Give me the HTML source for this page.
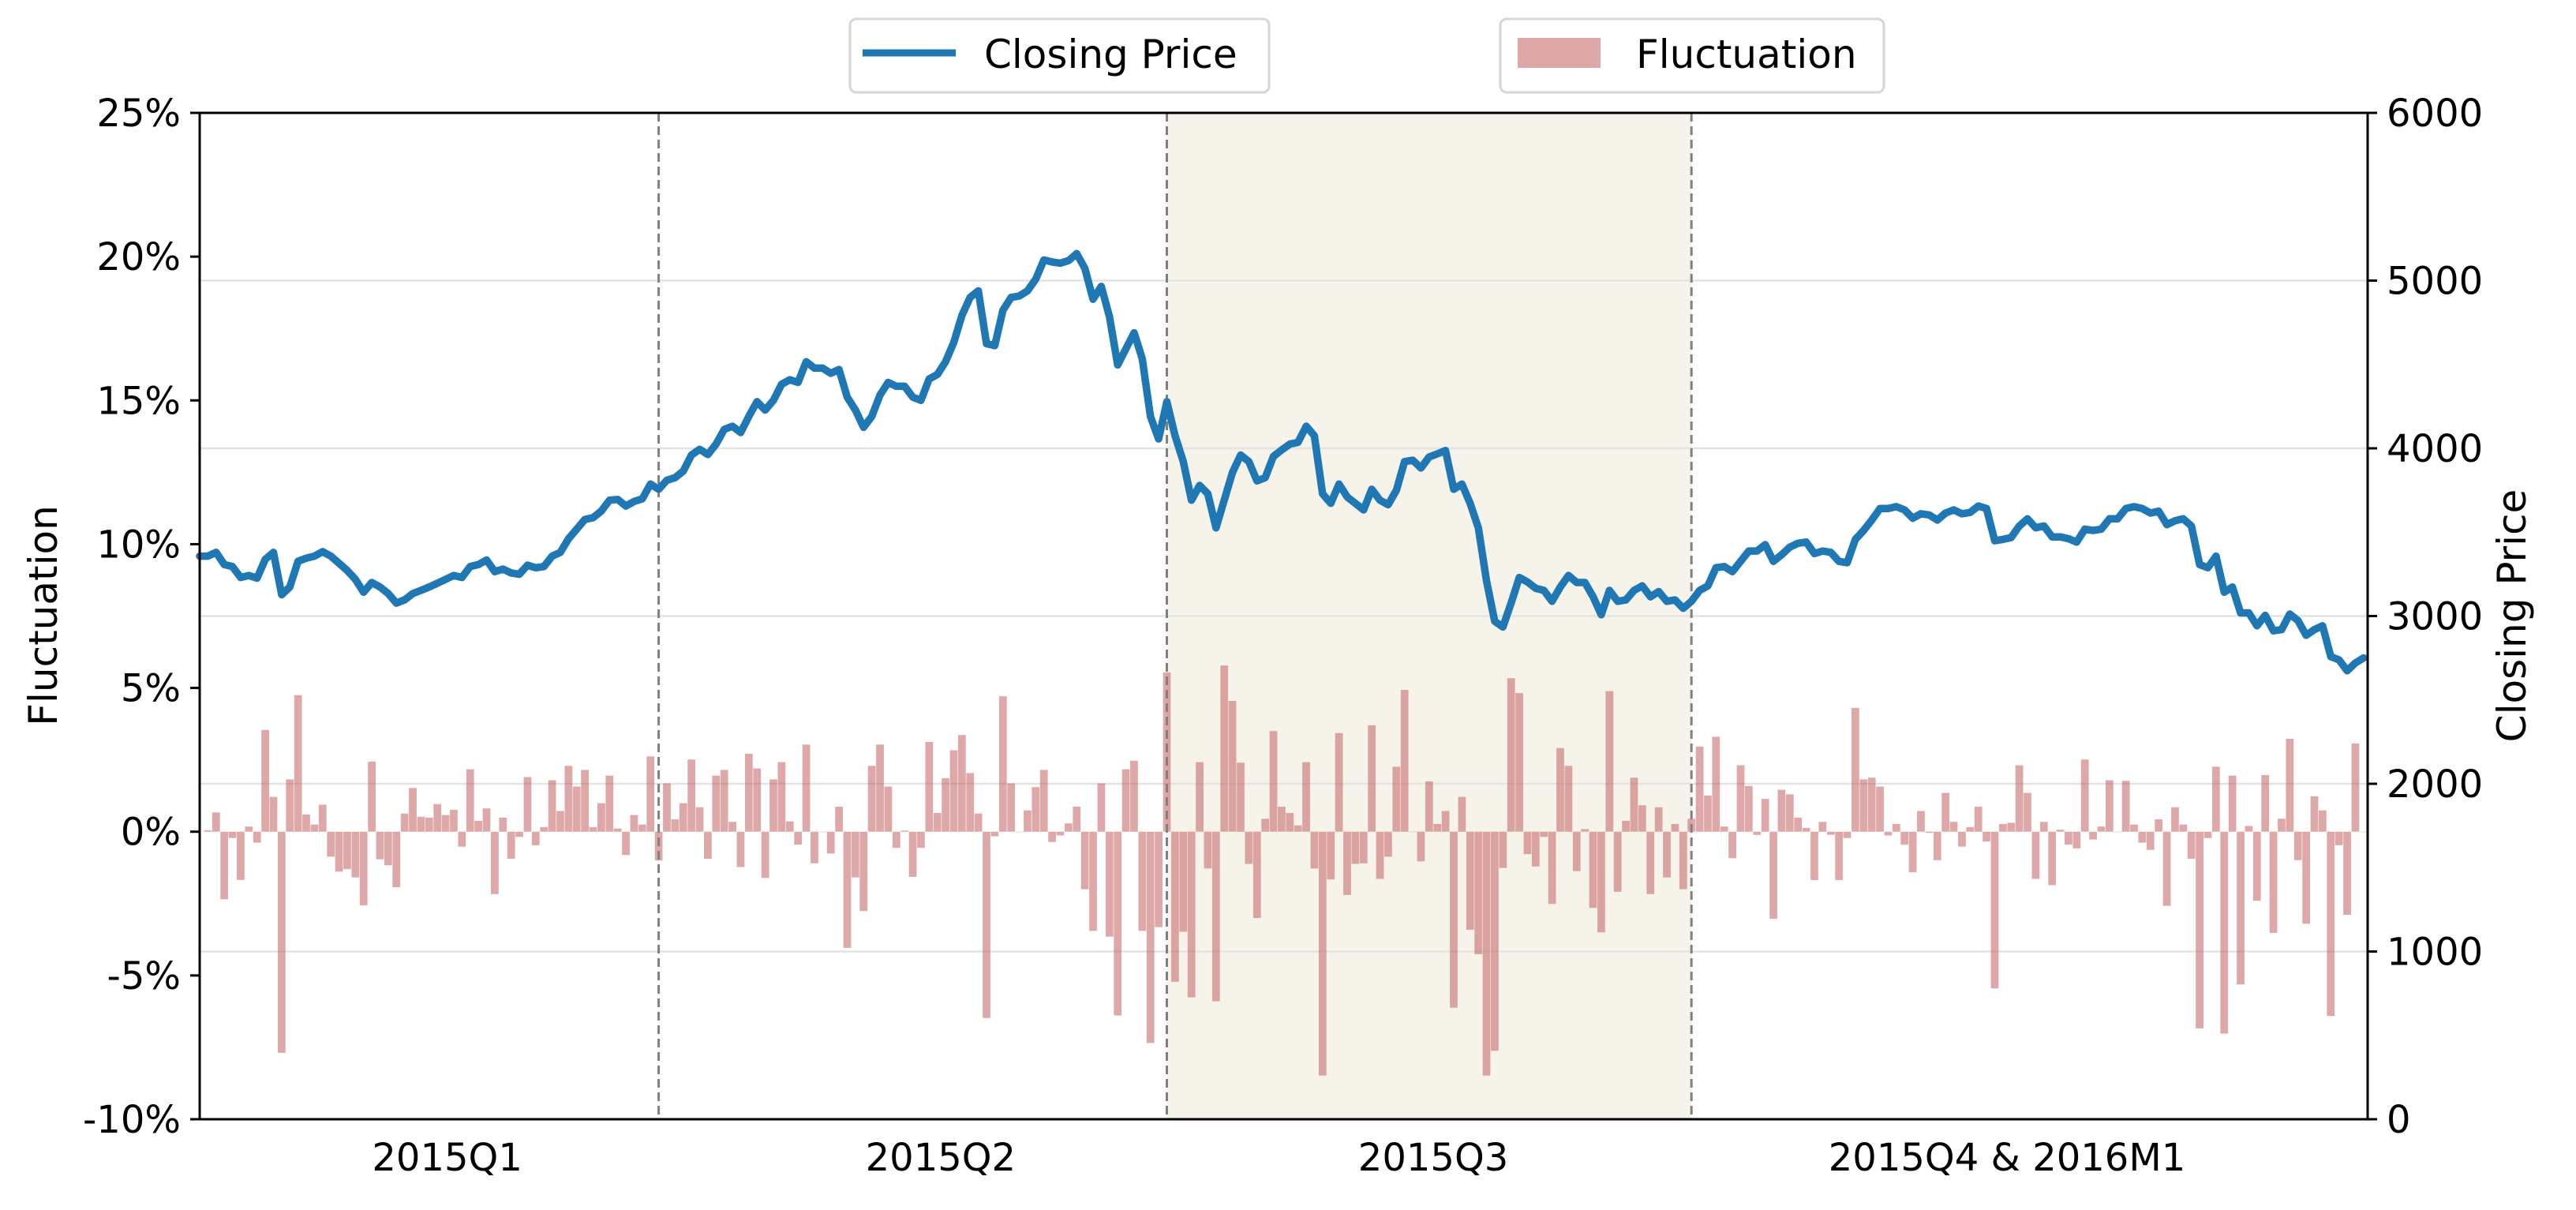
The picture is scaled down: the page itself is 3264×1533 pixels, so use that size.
<!DOCTYPE html>
<html><head><meta charset="utf-8"><style>
html,body{margin:0;padding:0;background:#fff;}
svg{display:block;font-family:"DejaVu Sans","Liberation Sans",sans-serif;}
</style></head><body>
<svg id="chart" width="3264" height="1533" viewBox="0 0 3264 1533" xmlns="http://www.w3.org/2000/svg">
<rect x="0" y="0" width="3264" height="1533" fill="#fff"/>
<g id="bg"></g>
<g id="grid"></g>
<g id="bars"></g>
<g id="vlines"></g>
<path id="price-line" fill="none" stroke="#1f77b4" stroke-width="9.5" stroke-linejoin="round" stroke-linecap="round"/>
<rect x="253" y="143" width="2747" height="1275" fill="none" stroke="#000" stroke-width="3"/>
<g id="axes"></g>
<text transform="translate(72,780) rotate(-90)" text-anchor="middle" font-size="50">Fluctuation</text>
<text transform="translate(3200,780) rotate(-90)" text-anchor="middle" font-size="50">Closing Price</text>
<g>
<rect x="1077" y="24" width="531" height="93" rx="8" fill="#fff" stroke="#d6d6d6" stroke-width="3"/>
<line x1="1093" y1="67" x2="1211" y2="67" stroke="#1f77b4" stroke-width="9"/>
<text x="1247" y="86" font-size="50">Closing Price</text>
</g>
<g>
<rect x="1901" y="24" width="486" height="93" rx="8" fill="#fff" stroke="#d6d6d6" stroke-width="3"/>
<rect x="1923" y="48" width="105" height="38" fill="#dea8a8"/>
<text x="2073" y="86" font-size="50">Fluctuation</text>
</g>
</svg>
<script>
const quarterLabels = ["2015Q1","2015Q2","2015Q3","2015Q4 & 2016M1"];
const quarterLabelPos = [30.2, 90.4, 150.5, 220.5];
const quarterBreaks = [56, 118, 182];
const leftTicks = [-10,-5,0,5,10,15,20,25];
const rightTicks = [0,1000,2000,3000,4000,5000,6000];
const closingPrice = [3357,3357,3380,3307,3295,3230,3242,3226,3338,3380,3127,3173,3326,3345,3357,3384,3357,3315,3272,3219,3142,3200,3173,3134,3077,3096,3134,3153,3173,3196,3219,3242,3230,3295,3307,3334,3265,3280,3257,3249,3303,3288,3295,3357,3380,3461,3518,3576,3587,3626,3691,3695,3656,3683,3699,3787,3756,
3810,3825,3864,3960,3994,3963,4025,4113,4132,4094,4190,4278,4228,4286,4382,4409,4393,4516,4478,4478,4447,4470,4305,4228,4125,4190,4317,4393,4370,4370,4305,4286,4413,4440,4516,4631,4793,4900,4939,4624,4612,4823,4900,4908,4939,5008,5123,5111,5104,5119,5161,5073,4889,4965,4785,4497,4593,4689,4535,4190,4056,4278,
4075,3921,3691,3779,3729,3526,3691,3856,3960,3921,3806,3825,3952,3990,4025,4036,4132,4075,3729,3672,3787,3710,3672,3633,3756,3691,3664,3749,3921,3929,3883,3948,3967,3987,3756,3787,3672,3526,3211,2969,2935,3077,3230,3203,3165,3153,3088,3173,3242,3200,3200,3115,3008,3153,3088,3096,3153,3180,3115,3146,3088,3096,3046,3088,
3153,3180,3288,3295,3265,3326,3388,3388,3426,3326,3365,3411,3434,3441,3372,3388,3380,3326,3318,3457,3510,3572,3641,3641,3652,3633,3583,3610,3603,3572,3614,3633,3610,3618,3656,3641,3449,3457,3468,3537,3580,3526,3537,3472,3472,3461,3441,3518,3510,3518,3580,3580,3641,3652,3641,3614,3625,3545,3568,3580,3537,3307,3288,3357,3142,3173,3019,3019,2942,3004,2912,2919,3012,2973,2885,2919,2942,2758,2739,2674,2720,2750];
const fluctuation = [0,0.05,0.67,-2.35,-0.22,-1.68,0.18,-0.38,3.54,1.21,-7.69,1.82,4.75,0.6,0.25,0.94,-0.87,-1.39,-1.3,-1.59,-2.56,2.44,-0.96,-1.17,-1.93,0.63,1.52,0.52,0.49,0.96,0.58,0.76,-0.52,2.17,0.38,0.81,-2.17,0.49,-0.94,-0.18,1.9,-0.47,0.16,1.79,0.72,2.29,1.57,2.15,0.16,0.99,1.95,0.11,-0.81,0.58,0.25,2.62,-1.0,
1.68,0.43,0.99,2.51,0.85,-0.94,1.95,2.15,0.34,-1.23,2.71,2.2,-1.61,1.82,2.42,0.36,-0.45,3.03,-1.1,0,-0.76,0.87,-4.04,-1.59,-2.76,2.29,3.03,1.57,-0.56,0.04,-1.57,-0.56,3.12,0.65,1.86,2.83,3.36,2.04,0.63,-6.48,-0.16,4.71,1.68,0,0.74,1.55,2.15,-0.36,-0.13,0.29,0.87,-2.0,-3.45,1.68,-3.65,-6.39,2.17,2.47,-3.45,-7.35,-3.32,5.54,
-5.22,-3.48,-5.76,2.42,-1.28,-5.9,5.78,4.55,2.4,-1.12,-3.0,0.45,3.5,0.87,0.65,0.22,2.42,-1.28,-8.48,-1.66,3.43,-2.2,-1.12,-1.1,3.7,-1.64,-0.87,2.26,4.93,0,-1.03,1.75,0.27,0.72,-6.12,1.21,-3.41,-4.26,-8.48,-7.62,-1.26,5.34,4.82,-0.78,-1.21,-0.18,-2.51,2.91,2.29,-1.37,0.09,-2.65,-3.5,4.89,-2.09,0.38,1.88,0.92,-2.17,0.85,-1.59,0.27,-2.0,0.45,
2.96,1.26,3.3,0.18,-0.92,2.31,1.59,-0.11,1.14,-3.03,1.46,1.3,0.49,0.13,-1.68,0.34,-0.11,-1.68,-0.22,4.3,1.82,1.88,1.57,-0.13,0.27,-0.45,-1.41,0.72,-0.04,-0.99,1.35,0.34,-0.52,0.16,0.87,-0.34,-5.45,0.27,0.31,2.31,1.35,-1.64,0.34,-1.86,0.07,-0.45,-0.58,2.51,-0.27,0.18,1.79,0,1.77,0.25,-0.38,-0.63,0.43,-2.58,0.85,0.25,-0.94,-6.84,-0.22,2.26,-7.02,1.95,-5.31,0.2,-2.4,1.97,-3.52,0.45,3.23,-0.99,-3.2,1.23,0.74,-6.41,-0.47,-2.89,3.07,0];

const NS='http://www.w3.org/2000/svg';
const L=253,R=3000,T=143,B=1418;
const N=closingPrice.length;
const step=(R-L)/(N-1+0.5);
function xs(i){return L+i*step;}
function yL(v){return B-(v+10)/35*(B-T);}
function yR(v){return B-v/6000*(B-T);}
function mk(tag,attrs,parent){const e=document.createElementNS(NS,tag);for(const k in attrs)e.setAttribute(k,attrs[k]);parent.appendChild(e);return e;}

const bg=document.getElementById('bg');
const shade=mk('rect',{x:xs(quarterBreaks[1]),y:T,width:xs(quarterBreaks[2])-xs(quarterBreaks[1]),height:B-T,fill:'#f6f3ea'},bg);



const grid=document.getElementById('grid');
rightTicks.slice(1,-1).forEach(v=>{
  const g=mk('line',{x1:L,x2:R,y1:yR(v),y2:yR(v),stroke:'#e3e3e3','stroke-width':2.5},grid);
  
  
});

const bars=document.getElementById('bars');
fluctuation.forEach((v,i)=>{
  if(i===0)return;
  const y0=yL(0),y1=yL(v);
  const b=mk('rect',{x:xs(i)-step*0.47,y:Math.min(y0,y1),width:step*0.94,height:Math.max(0.5,Math.abs(y1-y0)),fill:'rgba(196,96,96,0.55)'},bars);
  
  
});

const vl=document.getElementById('vlines');
quarterBreaks.forEach(q=>{
  const l=mk('line',{x1:xs(q),x2:xs(q),y1:T,y2:B,stroke:'#808080','stroke-width':3,'stroke-dasharray':'11,6'},vl);
  
  
});

let d='';
closingPrice.forEach((v,i)=>{d+=(i?'L':'M')+xs(i).toFixed(1)+','+yR(v).toFixed(1);});
document.getElementById('price-line').setAttribute('d',d);

const ax=document.getElementById('axes');
leftTicks.forEach(v=>{
  const y=yL(v);
  mk('line',{x1:L-12,x2:L,y1:y,y2:y,stroke:'#000','stroke-width':3},ax);
  const t=mk('text',{x:L-24,y:y+17,'text-anchor':'end','font-size':48},ax);
  t.textContent=v+'%';
  
  
});
rightTicks.forEach(v=>{
  const y=yR(v);
  mk('line',{x1:R,x2:R+12,y1:y,y2:y,stroke:'#000','stroke-width':3},ax);
  const t=mk('text',{x:R+24,y:y+17,'text-anchor':'start','font-size':48},ax);
  t.textContent=v;
  
  
});
quarterLabels.forEach((lab,k)=>{
  const t=mk('text',{x:xs(quarterLabelPos[k]),y:1483,'text-anchor':'middle','font-size':48},ax);
  t.textContent=lab;
  
  
});
</script>
</body></html>
